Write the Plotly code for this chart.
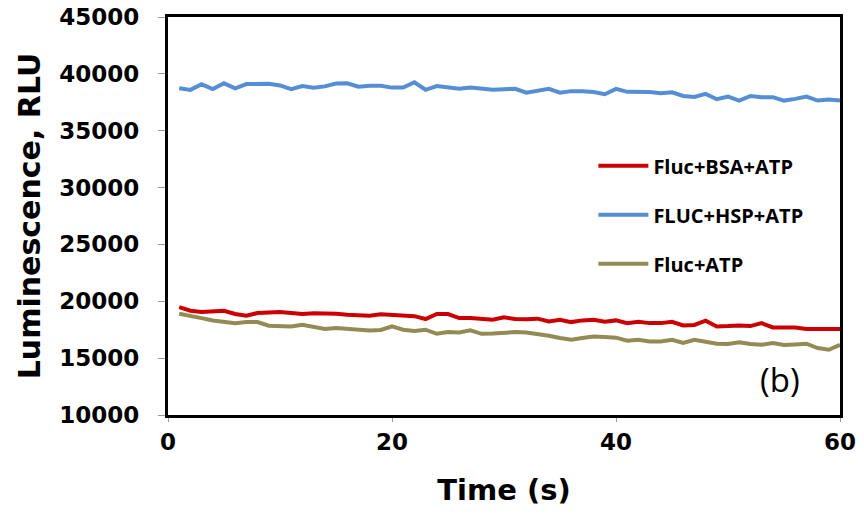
import plotly.graph_objects as go

time_s = list(range(1, 61))

fluc_hsp_atp = [38730, 38590, 39080, 38670, 39170, 38730, 39100, 39120, 39120, 38980,
                38650, 38930, 38780, 38900, 39150, 39170, 38870, 38950, 38960, 38790,
                38790, 39260, 38600, 38930, 38820, 38700, 38800, 38700, 38600, 38650,
                38680, 38350, 38480, 38680, 38350, 38480, 38480, 38400, 38210, 38680,
                38420, 38410, 38410, 38300, 38380, 38060, 37970, 38240, 37770, 38000,
                37650, 38060, 37950, 37950, 37650, 37800, 38000, 37650, 37750, 37650]

fluc_bsa_atp = [19490, 19170, 19050, 19110, 19170, 18880, 18730, 18970, 19050, 19050,
                18970, 18880, 18950, 18950, 18900, 18820, 18780, 18730, 18850, 18820,
                18760, 18690, 18440, 18880, 18880, 18520, 18520, 18440, 18380, 18590,
                18440, 18420, 18470, 18230, 18380, 18170, 18320, 18380, 18200, 18320,
                18080, 18200, 18080, 18080, 18200, 17880, 17920, 18290, 17790, 17820,
                17880, 17820, 18080, 17700, 17700, 17700, 17560, 17560, 17560, 17560]

fluc_atp = [18900, 18670, 18520, 18310, 18170, 18080, 18170, 18170, 17850, 17790,
            17790, 17940, 17790, 17560, 17640, 17560, 17440, 17440, 17480, 17790,
            17500, 17380, 17500, 17140, 17290, 17260, 17440, 17140, 17160, 17250,
            17290, 17260, 17140, 16970, 16770, 16620, 16770, 16910, 16850, 16800,
            16530, 16620, 16470, 16470, 16620, 16330, 16620, 16450, 16270, 16250,
            16390, 16250, 16180, 16330, 16150, 16200, 16270, 15890, 15740, 16180]

series_names = ["Fluc+BSA+ATP", "FLUC+HSP+ATP", "Fluc+ATP"]
series_values = [fluc_bsa_atp, fluc_hsp_atp, fluc_atp]
series_colors = ["#CC0000", "#558ED5", "#948A54"]

y_ticks = [10000, 15000, 20000, 25000, 30000, 35000, 40000, 45000]
x_ticks = [0, 20, 40, 60]

fig = go.Figure()
for i, (name, vals, col) in enumerate(zip(series_names, series_values, series_colors)):
    fig.add_trace(go.Scatter(x=time_s, y=vals, mode="lines", name=name,
                             legendgroup=str(i),
                             line=dict(color=col, width=4)))

tick_font = dict(family="DejaVu Sans", size=23, color="black", weight="bold")
fig.update_layout(
    width=864, height=520,
    margin=dict(l=168, r=24, t=17, b=105),
    plot_bgcolor="white", paper_bgcolor="white",
    showlegend=True,
    legend=dict(x=0.633, y=0.675, xanchor="left", yanchor="top",
                font=dict(family="Open Sans", size=20, color="black", weight="bold"),
                tracegroupgap=20, bgcolor="rgba(0,0,0,0)", itemwidth=50),
    xaxis=dict(range=[0, 60], tickvals=x_ticks, ticktext=[str(v) for v in x_ticks],
               showgrid=False, zeroline=False, automargin=False,
               ticklabeloverflow="allow",
               showline=True, mirror=True, linecolor="black", linewidth=3,
               ticks="outside", ticklen=4, tickcolor="#999999", tickwidth=1,
               tickfont=tick_font,
               title=dict(text="Time (s)", standoff=27,
                          font=dict(family="DejaVu Sans", size=29, color="black", weight="bold"))),
    yaxis=dict(range=[10000, 45000], tickvals=y_ticks, ticktext=[str(v) for v in y_ticks],
               showgrid=False, zeroline=False, automargin=False,
               ticklabeloverflow="allow",
               showline=True, mirror=True, linecolor="black", linewidth=3,
               ticks="outside", ticklen=7, tickcolor="#999999", tickwidth=1,
               tickfont=tick_font, ticklabelstandoff=14,
               title=dict(text="Luminescence, RLU", standoff=10,
                          font=dict(family="DejaVu Sans", size=30, color="black", weight="bold"))),
    annotations=[dict(text="(b)", x=0.91, y=0.09, xref="paper", yref="paper",
                      xanchor="center", yanchor="middle", showarrow=False,
                      font=dict(family="Open Sans", size=33, color="black"))],
)

fig.write_html("out.html", config={"displayModeBar": False},
               post_script="document.body.style.margin='0px';")
